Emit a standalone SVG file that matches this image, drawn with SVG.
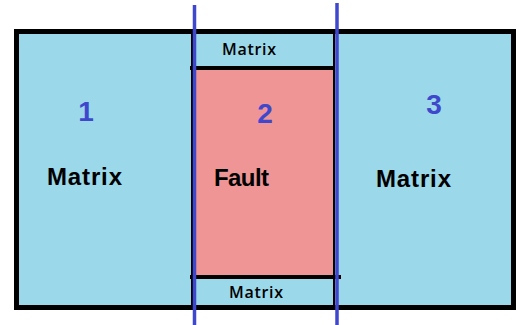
<svg xmlns="http://www.w3.org/2000/svg" width="519" height="325" viewBox="0 0 519 325">
  <style>
    .matrix { fill: #9AD8EA; }
    .fault { fill: #F09595; }
    .edge { stroke: #000; fill: none; }
    .cut { stroke: #3F48CC; stroke-width: 3.5; fill: none; }
    .num { font-family: "Liberation Sans", Arial, sans-serif; font-weight: bold; font-size: 28px; fill: #3F48CC; text-anchor: middle; }
    .big { font-family: "Liberation Sans", Arial, sans-serif; font-weight: bold; font-size: 24px; fill: #000; }
    .small { font-family: "Open Sans", "Liberation Sans", Arial, sans-serif; font-weight: 600; font-size: 16px; fill: #000; }
  </style>
  <rect width="519" height="325" fill="#fff"/>

  <!-- zone 1: left matrix block (outer frame) -->
  <g id="zone1">
    <rect class="matrix" x="16.5" y="31.5" width="497" height="276"/>
    <rect class="edge" x="16.5" y="31.5" width="497" height="276" stroke-width="5"/>
    <text class="num" x="86" y="121">1</text>
    <text class="big" x="47" y="185" textLength="75">Matrix</text>
  </g>

  <!-- zone 2: fault core with matrix strips above and below -->
  <g id="zone2">
    <rect class="fault" x="194" y="70" width="140" height="205"/>
    <line class="edge" x1="192.5" y1="34" x2="192.5" y2="305" stroke-width="3"/>
    <line class="edge" x1="334" y1="34" x2="334" y2="305" stroke-width="2"/>
    <line class="edge" x1="190" y1="68" x2="335" y2="68" stroke-width="4"/>
    <line class="edge" x1="190" y1="277" x2="341" y2="277" stroke-width="4"/>
    <text class="num" x="265" y="123">2</text>
    <text class="big" x="214" y="186" textLength="55">Fault</text>
    <text class="small" x="222" y="55" textLength="54">Matrix</text>
    <text class="small" x="229" y="298" textLength="54">Matrix</text>
  </g>

  <!-- zone 3: right matrix block -->
  <g id="zone3">
    <text class="num" x="434" y="114">3</text>
    <text class="big" x="376" y="187" textLength="75">Matrix</text>
  </g>

  <!-- zone boundaries -->
  <g id="connectors">
    <line class="cut" x1="194.5" y1="5" x2="194.5" y2="325"/>
    <line class="cut" x1="337" y1="3" x2="337" y2="325"/>
  </g>
</svg>
